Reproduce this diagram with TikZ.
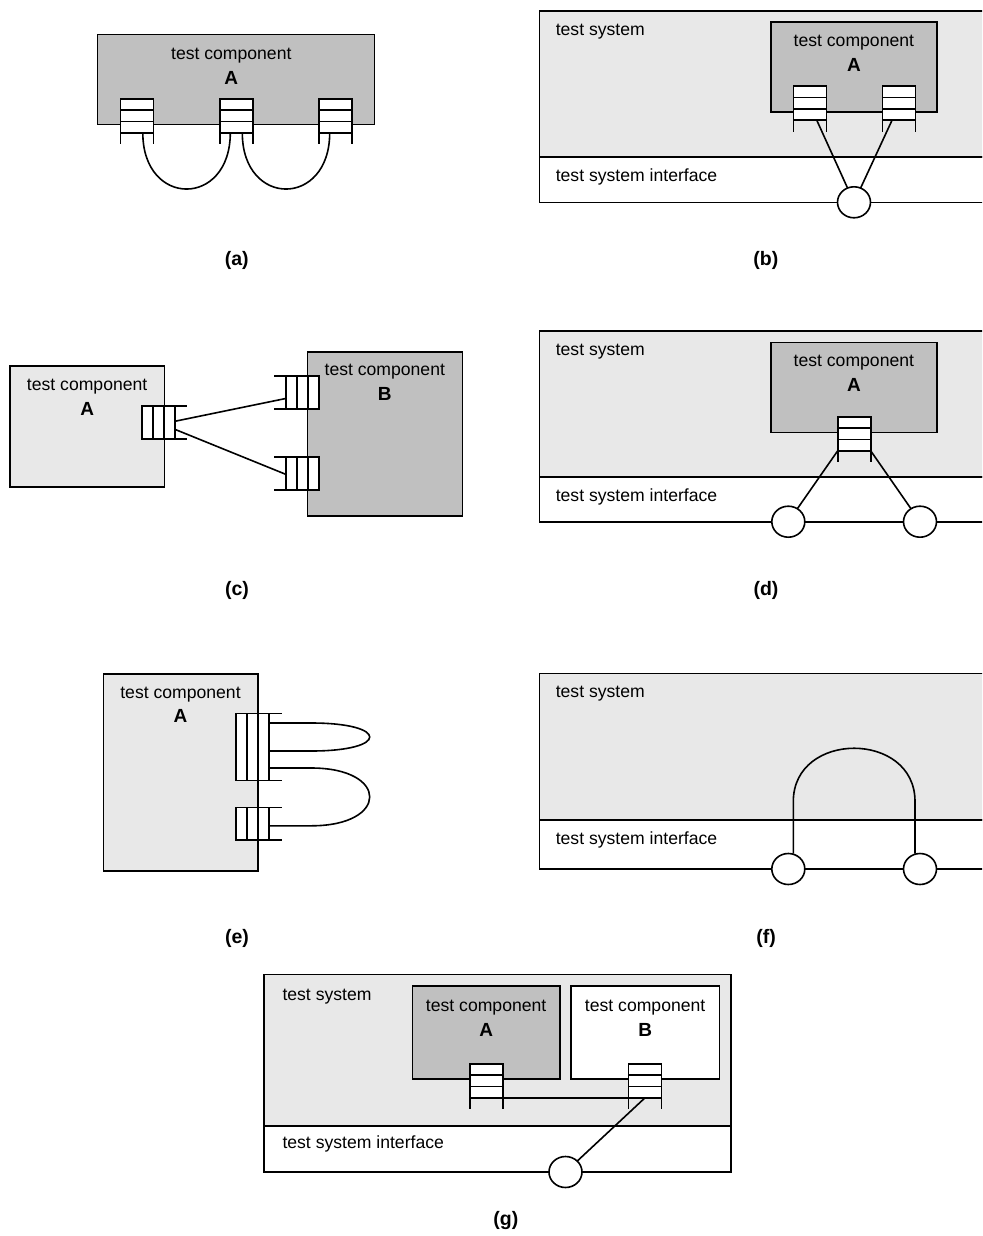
\documentclass[tikz,border=0pt]{standalone}
\usepackage{fontspec}
\setmainfont{Liberation Sans}
\usetikzlibrary{calc,shapes.geometric}

\definecolor{darkcomp}{HTML}{C0C0C0}
\definecolor{lightsys}{HTML}{E8E8E8}

\tikzset{
  sysarea/.style={draw, fill=lightsys},
  ifarea/.style={draw, fill=white},
  comp/.style={draw, anchor=north west, inner sep=0pt, outer sep=0pt},
  portbox/.style={draw, fill=white, inner sep=0pt, outer sep=0pt},
  iface/.style={ellipse, draw, fill=white, inner sep=0pt, outer sep=0pt,
                minimum width=33pt, minimum height=31pt},
  lbl/.style={anchor=base west, inner sep=0pt},
  ctext/.style={anchor=base, inner sep=0pt},
  cname/.style={anchor=base, inner sep=0pt, font=\fontsize{19}{22}\selectfont\bfseries},
  caption/.style={inner sep=0pt, font=\fontsize{19.5}{22}\selectfont\bfseries},
}

% port, cells stacked, legs pointing down
\newcommand{\vport}[2]{%
  \node[portbox, minimum width=33pt, minimum height=34pt] (#1) at (#2) {};
  \draw ($(#1.north west)!1/3!(#1.south west)$) -- ($(#1.north east)!1/3!(#1.south east)$)
        ($(#1.north west)!2/3!(#1.south west)$) -- ($(#1.north east)!2/3!(#1.south east)$)
        (#1.south west) -- ++(0,11.5)
        (#1.south east) -- ++(0,11.5);}
% port, cells side by side, legs on side #4
\newcommand{\hport}[5]{%
  \node[portbox, minimum width=33pt, minimum height=#3pt] (#1) at (#2) {};
  \draw ($(#1.north west)!1/3!(#1.north east)$) -- ($(#1.south west)!1/3!(#1.south east)$)
        ($(#1.north west)!2/3!(#1.north east)$) -- ($(#1.south west)!2/3!(#1.south east)$)
        (#1.north #4) -- ++(#5,0)
        (#1.south #4) -- ++(#5,0);}

\begin{document}
\begin{tikzpicture}[x=1pt, y=-1pt, line width=1.6pt, font=\fontsize{17.6}{21}\selectfont]
    \path[use as bounding box, fill=white] (0,0) rectangle (982,1236);
    \clip (0,0) rectangle (982,1236);

    % (a) component looped back onto itself
    \node[comp, fill=darkcomp, minimum width=277pt, minimum height=90pt] (aA) at (97.3,34.7) {};
    \node[ctext] (aAt) at ([xshift=-4.5pt,yshift=-24.5pt]aA.north) {test component};
    \node[cname] (aAn) at ([xshift=-4.5pt,yshift=-49.5pt]aA.north) {A};
    \vport{ap1}{136.8,115.8}
    \vport{ap2}{236.3,115.8}
    \vport{ap3}{335.7,115.8}
    \draw ([xshift=6pt]ap1.south) .. controls +(0,75) and +(0,75) .. ([xshift=-6pt]ap2.south);
    \draw ([xshift=6pt]ap2.south) .. controls +(0,75) and +(0,75) .. ([xshift=-6pt]ap3.south);
    \node[caption] (capa) at (236.7,260) {(a)};

    % (b) two ports mapped to one interface port
    \draw[sysarea] (539.3,11) rectangle (990,156.7);
    \draw[ifarea] (539.3,156.7) rectangle (990,202.3);
    \node[lbl] (bsys) at (555,35.5) {test system};
    \node[lbl] (bif) at (555,181.7) {test system interface};
    \node[comp, fill=darkcomp, minimum width=165.7pt, minimum height=90pt] (bA) at (771,22.3) {};
    \node[ctext] (bAt) at ([yshift=-24.5pt]bA.north) {test component};
    \node[cname] (bAn) at ([yshift=-49.5pt]bA.north) {A};
    \vport{bp1}{809.8,103.3}
    \vport{bp2}{899,103.3}
    \node[iface] (bio) at (854,202.3) {};
    \draw ([xshift=7pt]bp1.south) -- (bio);
    \draw ([xshift=-7pt]bp2.south) -- (bio);
    \node[caption] (capb) at (765.8,260) {(b)};

    % (c) one port to two ports of another component
    \node[comp, fill=lightsys, minimum width=154.3pt, minimum height=120.7pt] (cA) at (10,366) {};
    \node[ctext] (cAt) at ([yshift=-24.5pt]cA.north) {test component};
    \node[cname] (cAn) at ([yshift=-49.5pt]cA.north) {A};
    \node[comp, fill=darkcomp, minimum width=155pt, minimum height=164.3pt] (cB) at (307.3,351.7) {};
    \node[ctext] (cBt) at ([yshift=-24pt]cB.north) {test component};
    \node[cname] (cBn) at ([yshift=-49pt]cB.north) {B};
    \hport{cpA}{158.3,422.3}{33}{east}{11.7}
    \hport{cpB1}{302.2,392.5}{33}{west}{-11.7}
    \hport{cpB2}{302.2,473.3}{33}{west}{-11.7}
    \draw ([yshift=1pt]cpA.east) -- ([yshift=-6pt]cpB1.west);
    \draw ([yshift=-7pt]cpA.east) -- ([yshift=-1pt]cpB2.west);
    \node[caption] (capc) at (237,590) {(c)};

    % (d) one port mapped to two interface ports
    \draw[sysarea] (539.3,331) rectangle (990,476.7);
    \draw[ifarea] (539.3,476.7) rectangle (990,521.7);
    \node[lbl] (dsys) at (555,355.5) {test system};
    \node[lbl] (dif) at (555,501.7) {test system interface};
    \node[comp, fill=darkcomp, minimum width=165.7pt, minimum height=90pt] (dA) at (771,342.3) {};
    \node[ctext] (dAt) at ([yshift=-24.5pt]dA.north) {test component};
    \node[cname] (dAn) at ([yshift=-49.5pt]dA.north) {A};
    \vport{dp}{854.2,433.8}
    \node[iface] (dio1) at (788.3,521.7) {};
    \node[iface] (dio2) at (920,521.7) {};
    \draw (dp.south west) -- (dio1);
    \draw (dp.south east) -- (dio2);
    \node[caption] (capd) at (766,590) {(d)};

    % (e) ports of one component connected to each other
    \node[comp, fill=lightsys, minimum width=154.4pt, minimum height=196.7pt] (eA) at (103.3,674) {};
    \node[ctext] (eAt) at ([yshift=-24pt]eA.north) {test component};
    \node[cname] (eAn) at ([yshift=-48.5pt]eA.north) {A};
    \hport{ep1}{252.7,747}{67}{east}{12.4}
    \hport{ep2}{252.7,823.8}{32.3}{east}{12.4}
    \coordinate (l1a) at ([yshift=24pt]ep1.east);
    \coordinate (l1b) at ([yshift=-4pt]ep1.east);
    \coordinate (l2a) at ([yshift=-21pt]ep1.east);
    \coordinate (l2b) at ([yshift=-2pt]ep2.east);
    \draw (l1a) -- ++(42,0) .. controls +(78,0) and +(78,0) .. ($(l1b)+(42,0)$) -- (l1b);
    \draw (l2a) -- ++(42,0) .. controls +(78,0) and +(78,0) .. ($(l2b)+(42,0)$) -- (l2b);
    \node[caption] (cape) at (237,938) {(e)};

    % (f) two interface ports connected directly
    \draw[sysarea] (539.3,673.3) rectangle (990,820);
    \draw[ifarea] (539.3,820) rectangle (990,869);
    \node[lbl] (fsys) at (555,697.5) {test system};
    \node[lbl] (fif) at (555,844.5) {test system interface};
    \node[iface] (fio1) at (788.3,869) {};
    \node[iface] (fio2) at (920,869) {};
    \draw ([xshift=5pt]fio1.north) -- ++(0,-52) .. controls +(0,-71) and +(0,-71) .. ($(fio2.north)+(-5,-52)$) -- ([xshift=-5pt]fio2.north);
    \node[caption] (capf) at (766,938) {(f)};

    % (g) two components, one of them reaching the interface
    \draw[sysarea] (264,974.3) rectangle (730.7,1125.7);
    \draw[ifarea] (264,1125.7) rectangle (730.7,1172);
    \node[lbl] (gsys) at (281.7,1000) {test system};
    \node[lbl] (gif) at (281.7,1148.3) {test system interface};
    \node[comp, fill=darkcomp, minimum width=147.7pt, minimum height=93pt] (gA) at (412.3,986) {};
    \node[ctext] (gAt) at ([yshift=-25pt]gA.north) {test component};
    \node[cname] (gAn) at ([yshift=-50pt]gA.north) {A};
    \node[comp, fill=white, minimum width=148.3pt, minimum height=93pt] (gB) at (571,986) {};
    \node[ctext] (gBt) at ([yshift=-25pt]gB.north) {test component};
    \node[cname] (gBn) at ([yshift=-50pt]gB.north) {B};
    \vport{gpA}{486.2,1080.8}
    \vport{gpB}{645,1080.8}
    \node[iface] (gio) at (565.5,1172) {};
    \draw (gpA.south east) -- (gpB.south west);
    \draw (gpB.south) -- (gio);
    \node[caption] (capg) at (505.8,1220.8) {(g)};
\end{tikzpicture}
\end{document}
